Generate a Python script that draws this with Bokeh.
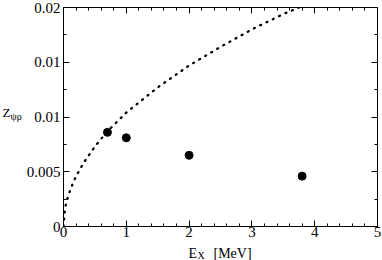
from bokeh.plotting import figure
from bokeh.models import LinearAxis, FixedTicker, Range1d
from bokeh.layouts import column, row
from bokeh.core.properties import value
from bokeh.embed import file_html
from bokeh.resources import INLINE

# ---- data ----
point_x = [0.7, 1.0, 2.0, 3.8]
point_y = [0.0086, 0.0081, 0.0065, 0.0046]

curve_x = [0.0, 0.02, 0.04, 0.075, 0.12, 0.16, 0.21, 0.27, 0.33, 0.5, 0.7, 1.0,
           1.5, 2.0, 2.5, 3.0, 3.5, 3.75]
curve_y = [0.0, 0.0014, 0.0021, 0.0028, 0.0035, 0.0041, 0.0047, 0.0053, 0.0059,
           0.0073, 0.0087, 0.0104, 0.0127, 0.0147, 0.0164, 0.0180, 0.0194, 0.0200]

x_ticks = [0, 1, 2, 3, 4, 5]
x_minor = [i * 0.2 for i in range(26)]
y_ticks = [0.0, 0.005, 0.01, 0.015, 0.02]
y_tick_labels = ["0", "0.005", "0.01", "0.01", "0.02"]
y_minor = [i * 0.0025 for i in range(9)]

y_title = ["Z", "ψρ"]
x_title = ["E", "X", "[MeV]"]

FONT = "Liberation Serif"
H_MAIN = 245
W_LEFT = 22

# ---- main plot ----
p = figure(width=382 - W_LEFT, height=H_MAIN, output_backend="svg",
           toolbar_location=None,
           x_range=Range1d(0, 5), y_range=Range1d(0, 0.02),
           x_axis_location=None, y_axis_location=None,
           min_border_left=41, min_border_right=5, min_border_top=7,
           min_border_bottom=19)
p.grid.visible = False
p.outline_line_color = "#000000"
p.background_fill_color = "white"
p.border_fill_color = "white"

def style(ax, labels=True):
    ax.major_tick_in = 6
    ax.major_tick_out = 0
    ax.minor_tick_in = 3
    ax.minor_tick_out = 0
    ax.axis_line_color = "#000000"
    ax.major_tick_line_color = "#000000"
    ax.minor_tick_line_color = "#000000"
    ax.major_label_text_font = FONT
    ax.major_label_text_font_size = "15px"
    ax.major_label_text_color = "#000000"
    ax.major_label_standoff = 3
    if not labels:
        ax.major_label_text_font_size = "0px"
        ax.major_label_text_alpha = 0
        ax.major_label_text_color = None
        ax.major_label_standoff = 0

xb = LinearAxis(ticker=FixedTicker(ticks=x_ticks, minor_ticks=x_minor))
style(xb)
xb.major_label_standoff = 0
p.add_layout(xb, "below")
xt = LinearAxis(ticker=FixedTicker(ticks=x_ticks, minor_ticks=x_minor))
style(xt, labels=False)
p.add_layout(xt, "above")

yl = LinearAxis(ticker=FixedTicker(ticks=y_ticks, minor_ticks=y_minor))
style(yl)
yl.major_label_overrides = {t: s for t, s in zip(y_ticks, y_tick_labels)}
p.add_layout(yl, "left")
yr = LinearAxis(ticker=FixedTicker(ticks=y_ticks, minor_ticks=y_minor))
style(yr, labels=False)
p.add_layout(yr, "right")

p.line(curve_x, curve_y, line_color="#000000", line_width=2.3,
       line_dash="1 6", line_cap="round")
p.scatter(point_x, point_y, size=8, color="#000000")

# ---- title strips (plain text) ----
def strip(w, h):
    f = figure(width=w, height=h, output_backend="svg", toolbar_location=None,
               x_range=Range1d(0, w), y_range=Range1d(0, h),
               x_axis_location=None, y_axis_location=None,
               min_border_left=0, min_border_right=0, min_border_top=0,
               min_border_bottom=0)
    f.grid.visible = False
    f.outline_line_color = None
    f.background_fill_color = "white"
    f.border_fill_color = "white"
    return f

yfig = strip(W_LEFT, H_MAIN)
yfig.text(x=[2], y=[H_MAIN - 118], text=[y_title[0]], text_font=value(FONT),
          text_font_size="13px", text_color="#000000", text_baseline="alphabetic")
yfig.text(x=[10], y=[H_MAIN - 122], text=[y_title[1]], text_font=value(FONT),
          text_font_size="10px", text_color="#000000", text_baseline="alphabetic")

H_X = 260 - H_MAIN
xfig = strip(382, H_X)
xfig.text(x=[188], y=[H_X - 8], text=[x_title[0]], text_font=value(FONT),
          text_font_size="14px", text_color="#000000", text_baseline="alphabetic")
xfig.text(x=[197], y=[H_X - 10], text=[x_title[1]], text_font=value(FONT),
          text_font_size="10px", text_color="#000000", text_baseline="alphabetic")
xfig.text(x=[213], y=[H_X - 8], text=[x_title[2]], text_font=value(FONT),
          text_font_size="14px", text_color="#000000", text_baseline="alphabetic")

layout = column(row(yfig, p, spacing=0), xfig, spacing=0)

open("out.html", "w").write(file_html(layout, INLINE))
